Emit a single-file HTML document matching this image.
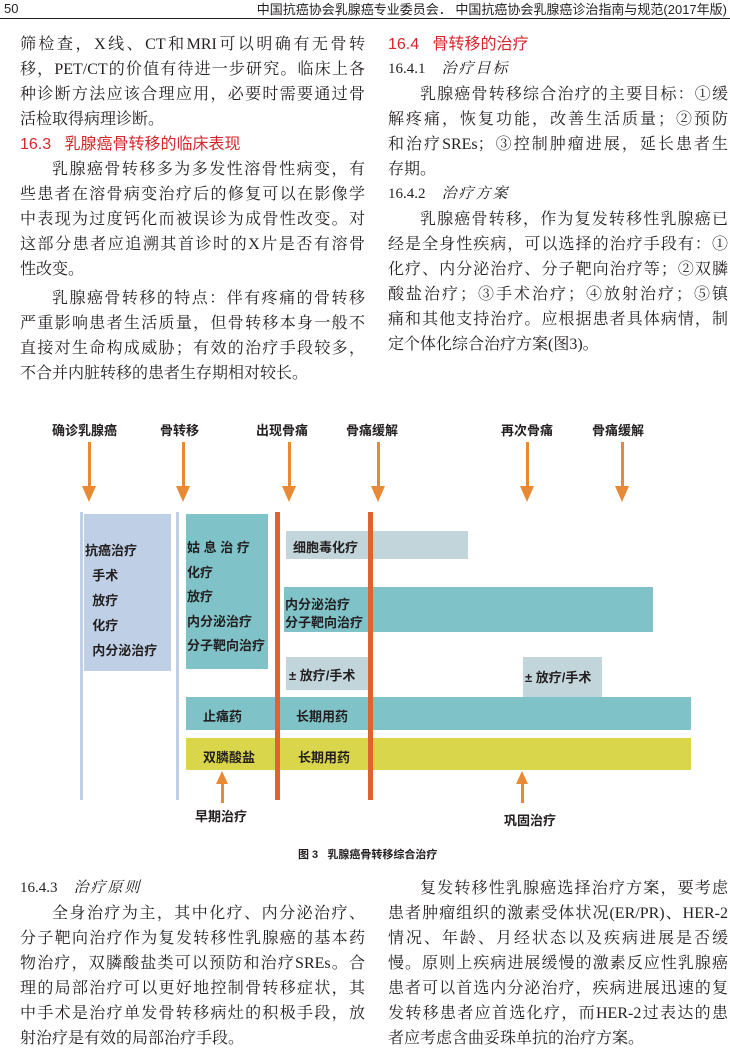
<!DOCTYPE html>
<html><head><meta charset="utf-8"><style>
body{margin:0;width:730px;height:1054px;background:#fff;position:relative;overflow:hidden;font-family:"Liberation Serif","Noto Serif CJK SC",serif;color:#231f20}
.hd{position:absolute;top:0;font-size:13px;font-family:"Liberation Sans","Noto Sans CJK SC",sans-serif;line-height:16px}
.rule{position:absolute;left:0;top:18px;width:730px;height:1px;background:#231f20}
.col{position:absolute;font-size:16px}
.l{height:25px;line-height:25px;text-align:justify;text-align-last:justify;white-space:nowrap}
.n{text-align-last:left}
.ind{padding-left:32px}
.h{color:#d7262b;font-family:"Liberation Sans","Noto Sans CJK SC",sans-serif;font-size:16px;text-align-last:left}
.sub{text-align-last:left;font-size:15px}
.sub i{font-style:italic;margin-left:16px;letter-spacing:2px}
.d{position:absolute;font-family:"Liberation Sans","Noto Sans CJK SC",sans-serif;font-size:13px;font-weight:bold;color:#231f20}
.bx{position:absolute}
.ar{position:absolute;width:3px;background:#e88a35}
.ah{position:absolute;width:0;height:0;border-left:7px solid transparent;border-right:7px solid transparent}
</style></head><body>
<div class="hd" style="left:4px;top:1px">50</div>
<div class="hd" style="right:3px;top:2px">中国抗癌协会乳腺癌专业委员会．&nbsp;中国抗癌协会乳腺癌诊治指南与规范(2017年版)</div>
<div class="rule"></div>

<div class="col" style="left:20px;top:32px;width:345px">
<div class="l">筛检查，X线、CT和MRI可以明确有无骨转</div>
<div class="l">移，PET/CT的价值有待进一步研究。临床上各</div>
<div class="l">种诊断方法应该合理应用，必要时需要通过骨</div>
<div class="l n">活检取得病理诊断。</div>
<div class="l h">16.3&nbsp;&nbsp;&nbsp;乳腺癌骨转移的临床表现</div>
<div class="l ind">乳腺癌骨转移多为多发性溶骨性病变，有</div>
<div class="l">些患者在溶骨病变治疗后的修复可以在影像学</div>
<div class="l">中表现为过度钙化而被误诊为成骨性改变。对</div>
<div class="l">这部分患者应追溯其首诊时的X片是否有溶骨</div>
<div class="l n">性改变。</div>
<div class="l ind" style="margin-top:4px">乳腺癌骨转移的特点：伴有疼痛的骨转移</div>
<div class="l">严重影响患者生活质量，但骨转移本身一般不</div>
<div class="l">直接对生命构成威胁；有效的治疗手段较多，</div>
<div class="l n">不合并内脏转移的患者生存期相对较长。</div>
</div>

<div class="col" style="left:388px;top:32px;width:340px">
<div class="l h">16.4&nbsp;&nbsp;&nbsp;骨转移的治疗</div>
<div class="l sub">16.4.1<i>治疗目标</i></div>
<div class="l ind">乳腺癌骨转移综合治疗的主要目标：①缓</div>
<div class="l">解疼痛，恢复功能，改善生活质量；②预防</div>
<div class="l">和治疗SREs；③控制肿瘤进展，延长患者生</div>
<div class="l n">存期。</div>
<div class="l sub">16.4.2<i>治疗方案</i></div>
<div class="l ind">乳腺癌骨转移，作为复发转移性乳腺癌已</div>
<div class="l">经是全身性疾病，可以选择的治疗手段有：①</div>
<div class="l">化疗、内分泌治疗、分子靶向治疗等；②双膦</div>
<div class="l">酸盐治疗；③手术治疗；④放射治疗；⑤镇</div>
<div class="l">痛和其他支持治疗。应根据患者具体病情，制</div>
<div class="l n">定个体化综合治疗方案(图3)。</div>
</div>

<!-- diagram -->
<div class="d" style="left:52px;top:420px">确诊乳腺癌</div>
<div class="d" style="left:160px;top:420px">骨转移</div>
<div class="d" style="left:256px;top:420px">出现骨痛</div>
<div class="d" style="left:346px;top:420px">骨痛缓解</div>
<div class="d" style="left:501px;top:420px">再次骨痛</div>
<div class="d" style="left:592px;top:420px">骨痛缓解</div>

<div class="ar" style="left:88px;top:442px;height:46px"></div><div class="ah" style="left:82px;top:486px;border-top:16px solid #e88a35"></div>
<div class="ar" style="left:182px;top:442px;height:46px"></div><div class="ah" style="left:176px;top:486px;border-top:16px solid #e88a35"></div>
<div class="ar" style="left:288px;top:442px;height:46px"></div><div class="ah" style="left:282px;top:486px;border-top:16px solid #e88a35"></div>
<div class="ar" style="left:377px;top:442px;height:46px"></div><div class="ah" style="left:371px;top:486px;border-top:16px solid #e88a35"></div>
<div class="ar" style="left:526px;top:442px;height:46px"></div><div class="ah" style="left:520px;top:486px;border-top:16px solid #e88a35"></div>
<div class="ar" style="left:621px;top:442px;height:46px"></div><div class="ah" style="left:615px;top:486px;border-top:16px solid #e88a35"></div>

<div class="bx" style="left:80px;top:512px;width:3px;height:288px;background:#bfd0e6"></div>
<div class="bx" style="left:176px;top:512px;width:3px;height:288px;background:#bfd0e6"></div>
<div class="bx" style="left:84px;top:514px;width:87px;height:157px;background:#bfd0e6"></div>
<div class="d" style="left:85px;top:538px;line-height:25px">抗癌治疗<br>&nbsp;&nbsp;手术<br>&nbsp;&nbsp;放疗<br>&nbsp;&nbsp;化疗<br>&nbsp;&nbsp;内分泌治疗</div>
<div class="bx" style="left:186px;top:514px;width:82px;height:155px;background:#7fc3c8"></div>
<div class="d" style="left:187px;top:536px;line-height:24.5px">姑 息 治 疗<br>化疗<br>放疗<br>内分泌治疗<br>分子靶向治疗</div>

<div class="bx" style="left:286px;top:531px;width:182px;height:28px;background:#c2d5da"></div>
<div class="d" style="left:293px;top:537px">细胞毒化疗</div>
<div class="bx" style="left:284px;top:587px;width:369px;height:45px;background:#7fc3c8"></div>
<div class="d" style="left:285px;top:596px;line-height:18px">内分泌治疗<br>分子靶向治疗</div>
<div class="bx" style="left:286px;top:657px;width:82px;height:33px;background:#c2d5da"></div>
<div class="d" style="left:289px;top:665px">± 放疗/手术</div>
<div class="bx" style="left:523px;top:657px;width:79px;height:40px;background:#c2d5da"></div>
<div class="d" style="left:525px;top:667px">± 放疗/手术</div>

<div class="bx" style="left:186px;top:697px;width:505px;height:33px;background:#7fc3c8"></div>
<div class="d" style="left:203px;top:706px">止痛药</div>
<div class="d" style="left:296px;top:706px">长期用药</div>
<div class="bx" style="left:186px;top:738px;width:505px;height:32px;background:#d9d64c"></div>
<div class="d" style="left:203px;top:747px">双膦酸盐</div>
<div class="d" style="left:298px;top:747px">长期用药</div>

<div class="bx" style="left:275px;top:512px;width:5px;height:288px;background:#e0622e"></div>
<div class="bx" style="left:368px;top:512px;width:5px;height:288px;background:#e0622e"></div>

<div class="ar" style="left:221px;top:783px;height:20px"></div><div class="ah" style="left:216px;top:771px;border-left:6px solid transparent;border-right:6px solid transparent;border-bottom:13px solid #e88a35"></div>
<div class="ar" style="left:521px;top:783px;height:20px"></div><div class="ah" style="left:516px;top:771px;border-left:6px solid transparent;border-right:6px solid transparent;border-bottom:13px solid #e88a35"></div>
<div class="d" style="left:195px;top:806px">早期治疗</div>
<div class="d" style="left:504px;top:810px">巩固治疗</div>
<div class="d" style="left:298px;top:846px;font-size:11px">图 3&nbsp;&nbsp;&nbsp;乳腺癌骨转移综合治疗</div>

<div class="col" style="left:20px;top:876px;width:345px">
<div class="l sub">16.4.3<i>治疗原则</i></div>
<div class="l ind">全身治疗为主，其中化疗、内分泌治疗、</div>
<div class="l">分子靶向治疗作为复发转移性乳腺癌的基本药</div>
<div class="l">物治疗，双膦酸盐类可以预防和治疗SREs。合</div>
<div class="l">理的局部治疗可以更好地控制骨转移症状，其</div>
<div class="l">中手术是治疗单发骨转移病灶的积极手段，放</div>
<div class="l n">射治疗是有效的局部治疗手段。</div>
</div>
<div class="col" style="left:388px;top:876px;width:340px">
<div class="l ind">复发转移性乳腺癌选择治疗方案，要考虑</div>
<div class="l">患者肿瘤组织的激素受体状况(ER/PR)、HER-2</div>
<div class="l">情况、年龄、月经状态以及疾病进展是否缓</div>
<div class="l">慢。原则上疾病进展缓慢的激素反应性乳腺癌</div>
<div class="l">患者可以首选内分泌治疗，疾病进展迅速的复</div>
<div class="l">发转移患者应首选化疗，而HER-2过表达的患</div>
<div class="l n">者应考虑含曲妥珠单抗的治疗方案。</div>
</div>
</body></html>
